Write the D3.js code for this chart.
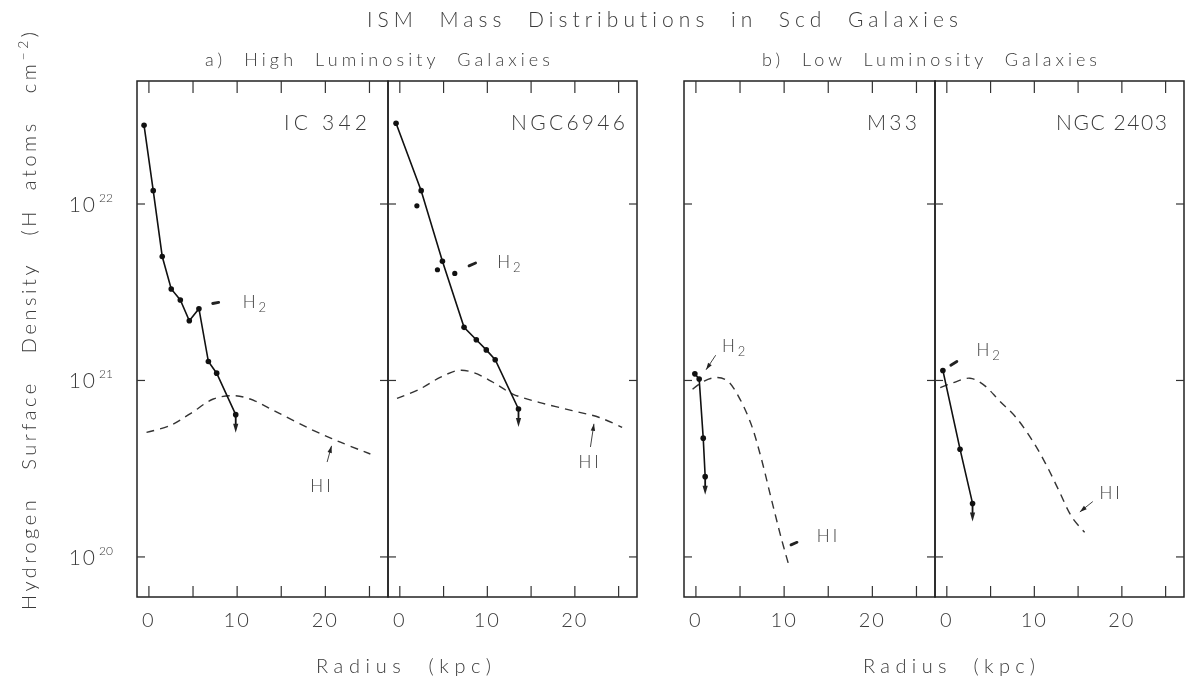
<!DOCTYPE html>
<html><head><meta charset="utf-8">
<script src="https://cdn.jsdelivr.net/npm/d3@7"></script>
<style>body{margin:0;background:#fff}svg{display:block;filter:grayscale(1)}text{font-family:Lato,"DejaVu Sans",sans-serif;font-weight:300;fill:#3a3a3a;font-variant-ligatures:none;font-feature-settings:"liga" 0}</style>
</head><body><svg id="c" width="1189" height="681"></svg>
<script>
// ---------- data ----------
const panelNames = ["IC 342", "NGC6946", "M33", "NGC 2403"];
const xTicks = [0, 5, 10, 15, 20, 25];
const xTickLabels = [0, 10, 20];
const yTicks = [1e20, 1e21, 1e22];
const yTickExp = ["20", "21", "22"];

// IC 342
const ic342_H2_r = [-0.55, 0.49, 1.51, 2.53, 3.56, 4.58, 5.67, 6.74, 7.68, 9.84];
const ic342_H2_N = [2.79e22, 1.19e22, 5.04e21, 3.30e21, 2.86e21, 2.18e21, 2.55e21, 1.28e21, 1.10e21, 6.40e20];
const ic342_HI_r = [-0.27, 2.38, 4.65, 7.3, 9.58, 11.47, 14.5, 18.3, 21.7, 25.1];
const ic342_HI_N = [5.08e20, 5.55e20, 6.46e20, 7.85e20, 8.20e20, 7.85e20, 6.61e20, 5.31e20, 4.47e20, 3.83e20];

// NGC 6946
const n6946_H2_r = [-0.43, 2.44, 4.87, 7.34, 8.74, 9.88, 10.9, 13.56];
const n6946_H2_N = [2.87e22, 1.19e22, 4.74e21, 2.00e21, 1.70e21, 1.49e21, 1.31e21, 6.89e20];
const n6946_extra_r = [1.95, 4.3, 6.28];
const n6946_extra_N = [9.77e21, 4.24e21, 4.04e21];
const n6946_HI_r = [-0.32, 2.3, 4.6, 6.7, 8.4, 10.65, 12.9, 15.9, 19.7, 22.8, 25.4];
const n6946_HI_N = [7.91e20, 8.95e20, 1.04e21, 1.14e21, 1.11e21, 9.77e20, 8.38e20, 7.52e20, 6.75e20, 6.17e20, 5.42e20];

// M33
const m33_H2_r = [-0.12, 0.37, 0.83, 1.05];
const m33_H2_N = [1.09e21, 1.02e21, 4.71e20, 2.85e20];
const m33_HI_r = [-0.38, 0.94, 2.45, 3.6, 4.9, 6.25, 7.38, 8.5, 9.65, 10.47];
const m33_HI_N = [8.91e20, 9.93e20, 1.04e21, 9.93e20, 8.0e20, 5.66e20, 3.66e20, 2.18e20, 1.29e20, 9.2e19];

// NGC 2403
const n2403_H2_r = [-0.45, 1.51, 2.94];
const n2403_H2_N = [1.14e21, 4.08e20, 2.01e20];
const n2403_HI_r = [-0.75, 0.76, 2.64, 4.14, 6.03, 7.91, 9.8, 11.3, 12.8, 14.3, 15.75];
const n2403_HI_N = [9.12e20, 9.73e20, 1.03e21, 9.51e20, 7.66e20, 6.17e20, 4.55e20, 3.37e20, 2.38e20, 1.68e20, 1.38e20];

// label anchors (data coords: kpc, H atoms cm^-2)
const h2LabelPos = [[10.63, 2.58e21], [11.12, 4.34e21], [2.96, 1.45e21], [3.38, 1.38e21]];
const hiLabelPos = [[18.3, 2.33e20], [20.42, 3.19e20], [13.71, 1.22e20], [17.44, 2.13e20]];
const h2Pointers = [[[7.23, 2.73e21], [7.91, 2.77e21]], [[7.91, 4.46e21], [8.66, 4.63e21]], [[2.24, 1.39e21], [1.15, 1.15e21]], [[0.46, 1.22e21], [1.15, 1.28e21]]];
const hiPointers = [[[20.2, 3.45e20], [20.7, 4.26e20]], [[21.78, 4.20e20], [22.18, 5.68e20]], [[10.78, 1.17e20], [11.46, 1.21e20]], [[16.68, 2.06e20], [15.2, 1.80e20]]];
const pointerIsArrow = { h2: [false, false, true, false], hi: [true, true, false, true] };

// ---------- layout ----------
const svg = d3.select("#c");
const TOP = 81, BOTTOM = 597;
const panelX = [[137, 388], [388, 637], [684, 935], [935, 1184]];
const nameRight = [367, 625, 917, 1167];
const nameWidth = [83, 114, 50, 111];
const y = d3.scaleLog().domain([Math.pow(10, 19.773), Math.pow(10, 22.697)]).range([BOTTOM, TOP]);

const panels = [
  { H2r: ic342_H2_r, H2N: ic342_H2_N, HIr: ic342_HI_r, HIN: ic342_HI_N },
  { H2r: n6946_H2_r, H2N: n6946_H2_N, HIr: n6946_HI_r, HIN: n6946_HI_N, exR: n6946_extra_r, exN: n6946_extra_N },
  { H2r: m33_H2_r, H2N: m33_H2_N, HIr: m33_HI_r, HIN: m33_HI_N },
  { H2r: n2403_H2_r, H2N: n2403_H2_N, HIr: n2403_HI_r, HIN: n2403_HI_N }
];

function arrowHead(g, x1, y1, x2, y2, len, hw) {
  const a = Math.atan2(y2 - y1, x2 - x1);
  const bx = x2 - len * Math.cos(a), by = y2 - len * Math.sin(a);
  const px = -Math.sin(a) * hw, py = Math.cos(a) * hw;
  g.append("path").attr("d", `M${x2},${y2}L${bx + px},${by + py}L${bx - px},${by - py}Z`).attr("fill", "#222");
}

panels.forEach((p, i) => {
  const [x0, x1] = panelX[i];
  const x = d3.scaleLinear().domain([-1.35, 27.1]).range([x0, x1]);
  const g = svg.append("g");

  // frame
  g.append("rect").attr("x", x0).attr("y", TOP).attr("width", x1 - x0).attr("height", BOTTOM - TOP)
    .attr("fill", "none").attr("stroke", "#222").attr("stroke-width", 1.5);

  // x ticks (top & bottom, inward)
  xTicks.forEach(t => {
    g.append("line").attr("x1", x(t)).attr("x2", x(t)).attr("y1", BOTTOM).attr("y2", BOTTOM - 11).attr("stroke", "#333").attr("stroke-width", 1.2);
    g.append("line").attr("x1", x(t)).attr("x2", x(t)).attr("y1", TOP).attr("y2", TOP + 12).attr("stroke", "#333").attr("stroke-width", 1.2);
  });
  xTickLabels.forEach(t => {
    g.append("text").attr("x", x(t)).attr("y", 627).attr("text-anchor", "middle")
      .attr("font-size", 20).attr("letter-spacing", 2).attr("fill", "#555").text(t);
  });
  // y ticks both edges inward
  yTicks.forEach(t => {
    g.append("line").attr("x1", x0).attr("x2", x0 + 8).attr("y1", y(t)).attr("y2", y(t)).attr("stroke", "#333").attr("stroke-width", 1.2);
    g.append("line").attr("x1", x1).attr("x2", x1 - 8).attr("y1", y(t)).attr("y2", y(t)).attr("stroke", "#333").attr("stroke-width", 1.2);
  });

  // panel name
  g.append("text").attr("x", nameRight[i] - nameWidth[i]).attr("y", 130)
    .attr("font-size", 21).attr("textLength", nameWidth[i]).attr("lengthAdjust", "spacing")
    .style("white-space", "pre").attr("fill", "#2a2a2a").text(panelNames[i]);

  // HI dashed curve
  const hiData = p.HIr.map((r, k) => [r, p.HIN[k]]);
  g.append("path").datum(hiData)
    .attr("d", d3.line().x(d => x(d[0])).y(d => y(d[1])).curve(d3.curveCatmullRom.alpha(0.5)))
    .attr("fill", "none").attr("stroke", "#333").attr("stroke-width", 1.4).attr("stroke-dasharray", "8,6");

  // H2 solid line with dots
  const h2Data = p.H2r.map((r, k) => [r, p.H2N[k]]);
  g.append("path").datum(h2Data)
    .attr("d", d3.line().x(d => x(d[0])).y(d => y(d[1])))
    .attr("fill", "none").attr("stroke", "#111").attr("stroke-width", 1.6);
  g.selectAll(null).data(h2Data).enter().append("circle")
    .attr("cx", d => x(d[0])).attr("cy", d => y(d[1])).attr("r", 2.8).attr("fill", "#111");
  if (p.exR) {
    g.selectAll(null).data(p.exR.map((r, k) => [r, p.exN[k]])).enter().append("circle")
      .attr("cx", d => x(d[0])).attr("cy", d => y(d[1])).attr("r", 2.6).attr("fill", "#111");
  }
  // upper-limit arrow from last point
  const last = h2Data[h2Data.length - 1];
  const lx = x(last[0]), ly = y(last[1]);
  g.append("line").attr("x1", lx).attr("x2", lx).attr("y1", ly).attr("y2", ly + 12).attr("stroke", "#111").attr("stroke-width", 1.8);
  arrowHead(g, lx, ly, lx, ly + 18, 9, 2.6);

  // H2 label
  const h2t = g.append("text").attr("x", x(h2LabelPos[i][0])).attr("y", y(h2LabelPos[i][1]))
    .attr("font-size", 17).attr("fill", i === 0 ? "#777" : "#444");
  h2t.append("tspan").text("H");
  h2t.append("tspan").attr("dx", 3).attr("dy", 4).attr("font-size", 13).text("2");

  // HI label
  g.append("text").attr("x", x(hiLabelPos[i][0])).attr("y", y(hiLabelPos[i][1]))
    .attr("font-size", 17).attr("letter-spacing", 3).attr("fill", "#444").text("HI");

  // pointers
  [["h2", h2Pointers[i]], ["hi", hiPointers[i]]].forEach(([kind, pts]) => {
    const ax = x(pts[0][0]), ay = y(pts[0][1]), bx = x(pts[1][0]), by = y(pts[1][1]);
    if (pointerIsArrow[kind][i]) {
      g.append("line").attr("x1", ax).attr("y1", ay).attr("x2", bx).attr("y2", by).attr("stroke", "#444").attr("stroke-width", 1);
      arrowHead(g, ax, ay, bx, by, 7, 2.2);
    } else {
      g.append("line").attr("x1", ax).attr("y1", ay).attr("x2", bx).attr("y2", by)
        .attr("stroke", "#222").attr("stroke-width", 2.8).attr("stroke-linecap", "round");
    }
  });
});

// y tick labels (left panel only)
yTicks.forEach((t, k) => {
  svg.append("text").attr("x", 97).attr("y", y(t) + 8).attr("text-anchor", "end")
    .attr("font-size", 21).attr("letter-spacing", 2).attr("fill", "#666").text("10");
  svg.append("text").attr("x", 99).attr("y", y(t) - 2)
    .attr("font-size", 12).attr("fill", "#666").text(yTickExp[k]);
});

// titles
svg.append("text").attr("x", 367).attr("y", 27).attr("font-size", 21)
  .attr("textLength", 591).attr("lengthAdjust", "spacing").style("white-space", "pre")
  .text("ISM  Mass  Distributions  in  Scd  Galaxies");
svg.append("text").attr("x", 205).attr("y", 66).attr("font-size", 18)
  .attr("textLength", 345).attr("lengthAdjust", "spacing").style("white-space", "pre")
  .text("a)  High  Luminosity  Galaxies");
svg.append("text").attr("x", 762).attr("y", 66).attr("font-size", 18)
  .attr("textLength", 335).attr("lengthAdjust", "spacing").style("white-space", "pre")
  .text("b)  Low  Luminosity  Galaxies");
[[316, 175], [863, 172]].forEach(([xx, w]) => {
  svg.append("text").attr("x", xx).attr("y", 673).attr("font-size", 20)
    .attr("textLength", w).attr("lengthAdjust", "spacing").style("white-space", "pre")
    .text("Radius  (kpc)");
});
// y axis label
const yl = svg.append("text").attr("transform", "translate(36,610) rotate(-90)")
  .attr("font-size", 20).attr("textLength", 578).attr("lengthAdjust", "spacing").style("white-space", "pre");
yl.append("tspan").text("Hydrogen   Surface   Density   (H  atoms   cm");
yl.append("tspan").attr("dy", -8).attr("font-size", 14).text("−2");
yl.append("tspan").attr("dy", 8).text(")");
</script></body></html>
